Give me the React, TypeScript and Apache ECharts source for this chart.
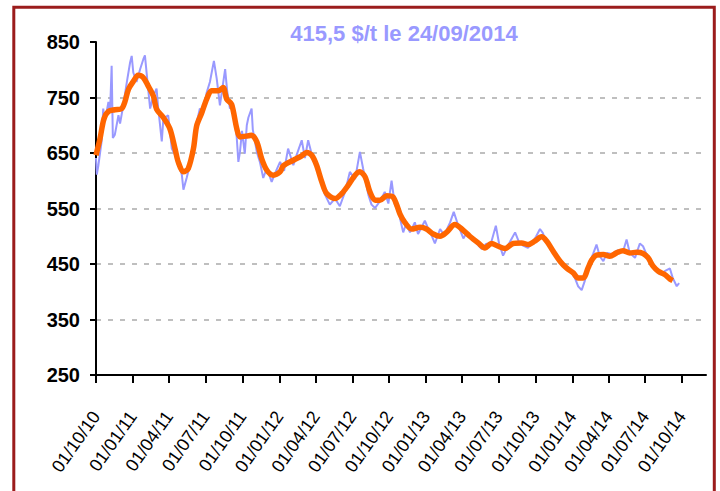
import React, { useEffect, useRef } from "react";
import * as echarts from "echarts";

// Daily price ($/t)
const priceDates = [
  "2010-10-01", "2010-10-03", "2010-10-07", "2010-10-15", "2010-10-19", "2010-10-23", "2010-11-01", "2010-11-05",
  "2010-11-09", "2010-11-12", "2010-11-17", "2010-11-26", "2010-11-30", "2010-12-08", "2010-12-17", "2010-12-25",
  "2010-12-29", "2011-01-02", "2011-01-10", "2011-01-19", "2011-01-27", "2011-01-31", "2011-02-08", "2011-02-13",
  "2011-02-21", "2011-03-01", "2011-03-05", "2011-03-14", "2011-03-18", "2011-03-30", "2011-04-08", "2011-04-20",
  "2011-05-03", "2011-05-07", "2011-05-15", "2011-05-23", "2011-06-01", "2011-06-09", "2011-06-17", "2011-06-25",
  "2011-07-04", "2011-07-12", "2011-07-22", "2011-07-29", "2011-08-06", "2011-08-19", "2011-08-24", "2011-08-31",
  "2011-09-08", "2011-09-17", "2011-09-21", "2011-09-25", "2011-09-30", "2011-10-07", "2011-10-12", "2011-10-16",
  "2011-10-24", "2011-10-27", "2011-11-06", "2011-11-14", "2011-11-22", "2011-12-01", "2011-12-13", "2011-12-21",
  "2012-01-03", "2012-01-13", "2012-01-23", "2012-02-05", "2012-02-14", "2012-02-26", "2012-03-05", "2012-03-13",
  "2012-03-20", "2012-03-30", "2012-04-11", "2012-04-24", "2012-05-06", "2012-05-19", "2012-05-31", "2012-06-13",
  "2012-06-25", "2012-07-08", "2012-07-20", "2012-07-28", "2012-08-10", "2012-08-18", "2012-08-27", "2012-09-08",
  "2012-09-20", "2012-09-29", "2012-10-07", "2012-10-15", "2012-10-24", "2012-11-05", "2012-11-12", "2012-11-22",
  "2012-12-04", "2012-12-12", "2012-12-19", "2012-12-29", "2013-01-06", "2013-01-15", "2013-01-23", "2013-02-05",
  "2013-02-15", "2013-03-02", "2013-03-11", "2013-03-21", "2013-04-04", "2013-04-13", "2013-04-23", "2013-05-07",
  "2013-05-20", "2013-05-30", "2013-06-12", "2013-06-24", "2013-07-02", "2013-07-12", "2013-07-24", "2013-08-11",
  "2013-08-21", "2013-08-31", "2013-09-12", "2013-09-22", "2013-10-02", "2013-10-12", "2013-10-19", "2013-10-27",
  "2013-11-06", "2013-11-21", "2013-12-09", "2013-12-26", "2014-01-07", "2014-01-15", "2014-01-24", "2014-02-01",
  "2014-02-09", "2014-02-22", "2014-03-02", "2014-03-10", "2014-03-19", "2014-03-28", "2014-04-09", "2014-04-25",
  "2014-05-07", "2014-05-16", "2014-05-24", "2014-06-06", "2014-06-18", "2014-06-26", "2014-07-06", "2014-07-21",
  "2014-08-07", "2014-08-19", "2014-09-01", "2014-09-08", "2014-09-18", "2014-09-24",
];
const priceValues = [
  641, 611, 628, 671, 730, 706, 742, 722,
  807, 677, 683, 718, 703, 736, 778, 813,
  825, 795, 778, 801, 819, 826, 766, 730,
  753, 766, 732, 671, 712, 718, 658, 641,
  611, 584, 605, 628, 658, 705, 730, 722,
  759, 778, 816, 784, 736, 801, 762, 730,
  737, 677, 634, 652, 690, 649, 700, 714,
  730, 692, 652, 633, 605, 623, 598, 613,
  634, 618, 658, 628, 648, 673, 641, 673,
  653, 634, 605, 575, 557, 568, 554, 580,
  616, 603, 652, 622, 575, 557, 551, 563,
  580, 559, 600, 557, 545, 507, 522, 507,
  525, 504, 514, 528, 514, 501, 487, 513,
  502, 525, 544, 522, 496, 507, 498, 487,
  477, 486, 488, 519, 487, 465, 483, 507,
  489, 483, 479, 488, 499, 513, 506, 491,
  479, 470, 446, 439, 425, 410, 403, 420,
  446, 469, 485, 464, 455, 470, 468, 475,
  472, 494, 470, 461, 487, 482, 465, 450,
  431, 437, 442, 425, 410, 415.5,
];

// Moving average ($/t)
const avgDates = [
  "2010-10-01", "2010-10-11", "2010-10-21", "2010-11-01", "2010-11-17", "2010-12-04", "2010-12-12", "2010-12-21",
  "2011-01-02", "2011-01-14", "2011-01-27", "2011-02-08", "2011-02-21", "2011-03-01", "2011-03-18", "2011-04-03",
  "2011-04-16", "2011-04-24", "2011-05-07", "2011-05-19", "2011-06-01", "2011-06-09", "2011-06-22", "2011-07-04",
  "2011-07-16", "2011-08-02", "2011-08-14", "2011-08-23", "2011-09-04", "2011-09-17", "2011-09-25", "2011-10-16",
  "2011-10-24", "2011-11-06", "2011-11-18", "2011-12-01", "2011-12-17", "2012-01-03", "2012-01-11", "2012-02-05",
  "2012-02-26", "2012-03-09", "2012-03-22", "2012-04-03", "2012-04-16", "2012-04-28", "2012-05-19", "2012-06-05",
  "2012-06-21", "2012-07-08", "2012-07-20", "2012-08-02", "2012-08-14", "2012-08-27", "2012-09-08", "2012-09-25",
  "2012-10-10", "2012-10-20", "2012-10-28", "2012-11-09", "2012-11-26", "2012-12-17", "2013-01-02", "2013-01-19",
  "2013-02-05", "2013-02-21", "2013-03-14", "2013-03-31", "2013-04-20", "2013-05-11", "2013-05-28", "2013-06-13",
  "2013-06-30", "2013-07-17", "2013-08-06", "2013-08-27", "2013-09-13", "2013-09-29", "2013-10-16", "2013-10-29",
  "2013-11-14", "2013-12-01", "2013-12-17", "2014-01-03", "2014-01-15", "2014-01-28", "2014-02-09", "2014-02-18",
  "2014-03-02", "2014-03-19", "2014-04-04", "2014-04-21", "2014-05-07", "2014-05-24", "2014-06-10", "2014-06-26",
  "2014-07-09", "2014-07-21", "2014-08-03", "2014-08-19", "2014-09-01", "2014-09-08",
];
const avgValues = [
  646, 676, 712, 725, 728, 730, 742, 765,
  779, 790, 786, 771, 753, 729, 714, 694,
  658, 634, 616, 622, 658, 699, 723, 747,
  762, 762, 768, 747, 738, 694, 679, 681,
  682, 670, 640, 619, 610, 616, 627, 637,
  645, 651, 646, 628, 598, 577, 568, 577,
  592, 610, 616, 607, 580, 565, 565, 573,
  571, 556, 540, 525, 513, 516, 513, 504,
  500, 507, 521, 513, 500, 488, 479, 487,
  482, 478, 487, 488, 485, 491, 499, 491,
  473, 455, 443, 434, 425, 425, 443, 457,
  466, 467, 464, 470, 474, 470, 471, 469,
  461, 446, 437, 431, 423, 420,
];

const tickDates = [
  "2010-10-01", "2011-01-01", "2011-04-01", "2011-07-01", "2011-10-01",
  "2012-01-01", "2012-04-01", "2012-07-01", "2012-10-01",
  "2013-01-01", "2013-04-01", "2013-07-01", "2013-10-01",
  "2014-01-01", "2014-04-01", "2014-07-01", "2014-10-01",
];
const axisStart = "2010-10-01";
const axisEnd = "2014-11-30";
const titleText = "415,5 $/t le 24/09/2014";

const FONT = "'Liberation Sans', Arial, sans-serif";

function toTs(s: string): number {
  const [y, m, d] = s.split("-").map(Number);
  return Date.UTC(y, m - 1, d);
}
function pad(n: number): string {
  return n < 10 ? "0" + n : String(n);
}

export default function App() {
  const ref = useRef<HTMLDivElement>(null);
  useEffect(() => {
    if (!ref.current) return;
    const chart = echarts.init(ref.current, undefined, { renderer: "svg" });
    const ticks = tickDates.map(toTs);
    chart.setOption({
      animation: false,
      backgroundColor: "#ffffff",
      textStyle: { fontFamily: FONT },
      graphic: [
        {
          type: "rect",
          z: 100,
          shape: { x: 13.8, y: 7.2, width: 700.5, height: 600 },
          style: { fill: "none", stroke: "#9B1C1C", lineWidth: 3 },
        },
        {
          type: "text",
          x: 404,
          y: 33,
          style: {
            text: titleText,
            fill: "#9999FF",
            font: `bold 22px ${FONT}`,
            textAlign: "center",
            textVerticalAlign: "middle",
          },
        },
      ],
      grid: { left: 96, right: 14, top: 42, bottom: 116, containLabel: false },
      xAxis: {
        type: "value",
        min: toTs(axisStart),
        max: toTs(axisEnd),
        axisLine: { show: true, lineStyle: { color: "#000", width: 2 } },
        axisTick: { show: true, customValues: ticks, length: 8, inside: false, lineStyle: { color: "#000", width: 2 } },
        axisLabel: {
          show: true,
          customValues: ticks,
          rotate: 55,
          margin: 38,
          fontSize: 18,
          color: "#000",
          fontFamily: FONT,
          formatter: (v: number) => {
            const d = new Date(v);
            return pad(d.getUTCDate()) + "/" + pad(d.getUTCMonth() + 1) + "/" + pad(d.getUTCFullYear() % 100);
          },
        },
        splitLine: { show: false },
      },
      yAxis: {
        type: "value",
        min: 250,
        max: 850,
        interval: 100,
        axisLine: { show: true, lineStyle: { color: "#000", width: 2 } },
        axisTick: { show: true, length: 6, lineStyle: { color: "#000", width: 2 } },
        axisLabel: { fontSize: 20, fontWeight: "bold", color: "#000", margin: 16, fontFamily: FONT },
        splitLine: {
          show: true,
          showMinLine: false,
          showMaxLine: false,
          lineStyle: { color: "#BFBFBF", type: [5, 7], width: 2 },
        },
      },
      series: [
        {
          type: "line",
          data: priceDates.map((d, i) => [toTs(d), priceValues[i]]),
          showSymbol: false,
          symbol: "none",
          lineStyle: { color: "#9999FF", width: 2 },
          z: 2,
        },
        {
          type: "line",
          data: avgDates.map((d, i) => [toTs(d), avgValues[i]]),
          showSymbol: false,
          symbol: "none",
          smooth: 0.3,
          lineStyle: { color: "#FF6600", width: 5.5 },
          z: 3,
        },
      ],
    });
    return () => chart.dispose();
  }, []);
  return <div ref={ref} style={{ position: "absolute", left: 0, top: 0, width: 720, height: 491 }} />;
}
